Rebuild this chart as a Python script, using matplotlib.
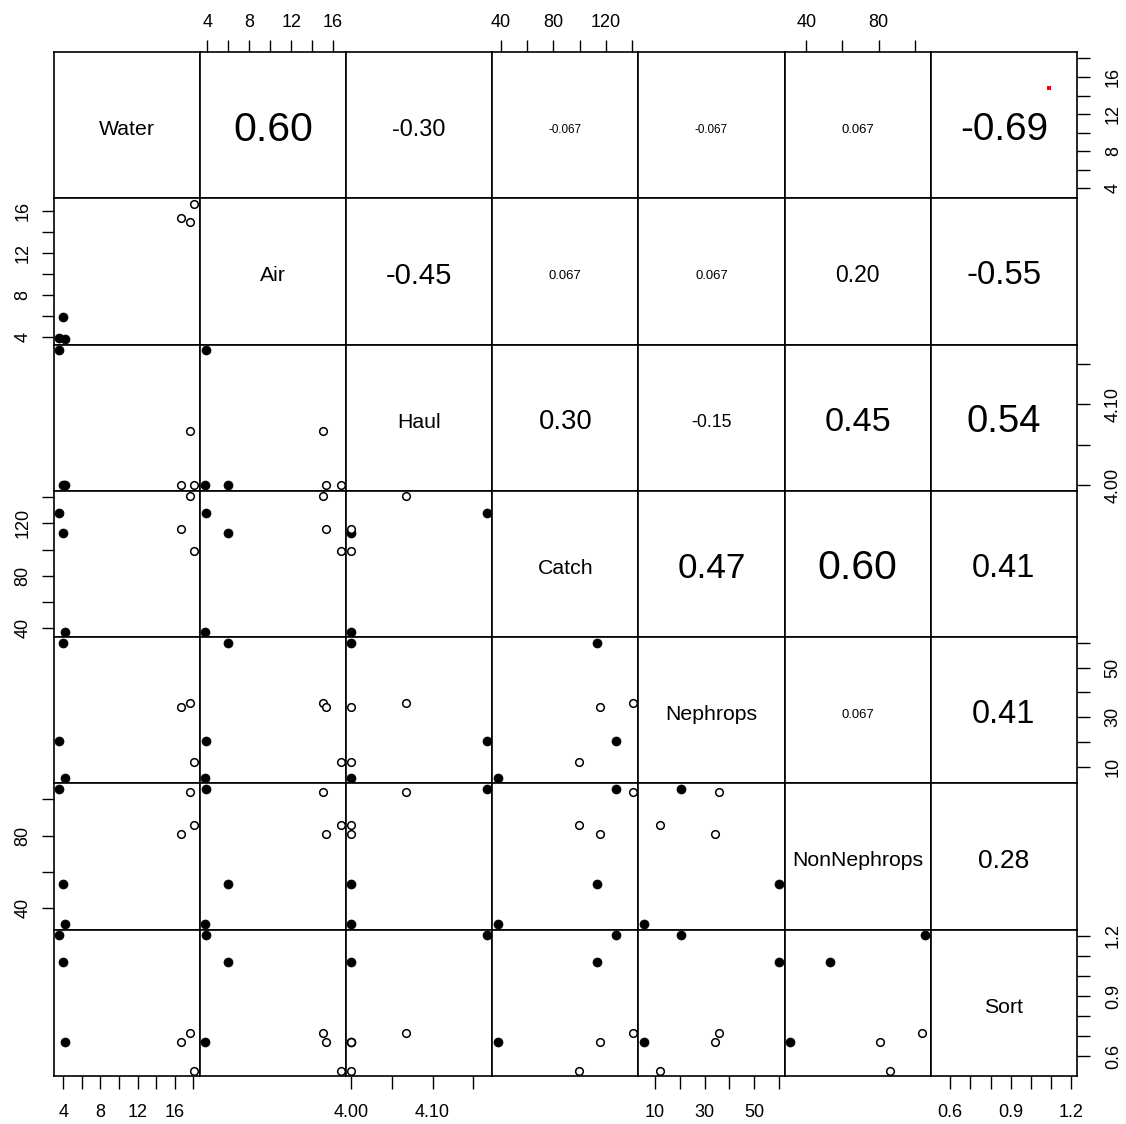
import matplotlib
matplotlib.use("Agg")
import matplotlib.pyplot as plt

plt.rcParams['font.family'] = ['Liberation Sans', 'DejaVu Sans']

# variables in the order of the pairs grid
names = ["Water", "Air", "Haul", "Catch", "Nephrops", "NonNephrops", "Sort"]

# one value per haul, first three are the filled dots, last three the open ones
water = [3.53, 3.96, 4.17, 17.65, 16.72, 18.10]
air = [3.9, 5.95, 3.8, 15.0, 15.3, 16.7]
haul = [4.1667, 4.0, 4.0, 4.0667, 4.0, 4.0]
catch = [128.0, 113.0, 37.3, 140.7, 115.7, 99.3]
nephrops = [20.3, 60.2, 5.4, 35.7, 34.3, 12.0]
nonnephrops = [105.8, 53.0, 31.0, 103.9, 81.0, 86.0]
sort = [1.203, 1.068, 0.671, 0.715, 0.671, 0.53]
filled = [True, True, True, False, False, False]

# stray red point in the Water / Sort upper panel
red_sort = [1.09]
red_water = [14.8]

# correlations printed in the upper triangle, row by row
cor_text = [
    ["0.60", "-0.30", "-0.067", "-0.067", "0.067", "-0.69"],
    ["-0.45", "0.067", "0.067", "0.20", "-0.55"],
    ["0.30", "-0.15", "0.45", "0.54"],
    ["0.47", "0.60", "0.41"],
    ["0.067", "0.41"],
    ["0.28"],
]

# axis ticks and which of them carry a label
water_ticks = [4, 6, 8, 10, 12, 14, 16, 18]
water_labels = ["4", "", "8", "", "12", "", "16", ""]
air_ticks = [4, 6, 8, 10, 12, 14, 16]
air_labels = ["4", "", "8", "", "12", "", "16"]
haul_ticks = [4.00, 4.05, 4.10, 4.15]
haul_labels = ["4.00", "", "4.10", ""]
catch_ticks = [40, 60, 80, 100, 120, 140]
catch_labels = ["40", "", "80", "", "120", ""]
neph_ticks = [10, 20, 30, 40, 50, 60]
neph_labels = ["10", "", "30", "", "50", ""]
nonneph_ticks = [40, 60, 80, 100]
nonneph_labels = ["40", "", "80", ""]
sort_ticks = [0.6, 0.7, 0.8, 0.9, 1.0, 1.1, 1.2]
sort_labels = ["0.6", "", "", "0.9", "", "", "1.2"]

data = [water, air, haul, catch, nephrops, nonnephrops, sort]
ticks = [water_ticks, air_ticks, haul_ticks, catch_ticks, neph_ticks,
         nonneph_ticks, sort_ticks]
labels = [water_labels, air_labels, haul_labels, catch_labels, neph_labels,
          nonneph_labels, sort_labels]

W, H = 1126, 1124
n = len(names)
fig, axes = plt.subplots(n, n, figsize=(W / 100, H / 100), dpi=100)
fig.subplots_adjust(left=53.5 / W, right=1077 / W, bottom=1 - 1076 / H,
                    top=1 - 52 / H, wspace=0, hspace=0)
renderer = fig.canvas.get_renderer()
panel_w = (1077 - 53.5) / n


def lims(v):
    # R style 4% padding around the data range
    lo, hi = min(v), max(v)
    d = (hi - lo) * 0.04
    return lo - d, hi + d


for i in range(n):
    for j in range(n):
        ax = axes[i][j]
        ax.set_xlim(lims(data[j]))
        ax.set_ylim(lims(data[i]))
        ax.set_xticks([])
        ax.set_yticks([])
        for s in ax.spines.values():
            s.set_linewidth(1.2)
        if i > j:
            xs, ys = data[j], data[i]
            fx = [x for x, f in zip(xs, filled) if f]
            fy = [y for y, f in zip(ys, filled) if f]
            ox = [x for x, f in zip(xs, filled) if not f]
            oy = [y for y, f in zip(ys, filled) if not f]
            ax.plot(fx, fy, 'o', ms=6.5, mfc='black', mec='black', mew=0.5,
                    ls='none', clip_on=False, zorder=3)
            ax.plot(ox, oy, 'o', ms=5.5, mfc='white', mec='black', mew=1.1,
                    ls='none', clip_on=False, zorder=3)
        elif i == j:
            ax.text(0.5, 0.47, names[i], transform=ax.transAxes, ha='center',
                    va='center', fontsize=15.3)
        else:
            txt = cor_text[i][j - i - 1]
            r = abs(float(txt))
            t = ax.text(0.5, 0.47, txt, transform=ax.transAxes, ha='center',
                        va='center', fontsize=10)
            w10 = t.get_window_extent(renderer).width
            target = (0.185 + 0.60 * r) * panel_w
            t.set_fontsize(10 * target / w10)

axes[0][n - 1].plot(red_sort, red_water, 's', ms=2.2, color='red', mew=0)

tick_kw = dict(direction='out', length=9, width=1.0, labelsize=13)

# bottom axis on the last row, odd columns
for j in range(0, n, 2):
    ax = axes[n - 1][j]
    ax.set_xticks(ticks[j])
    ax.set_xticklabels(labels[j])
    ax.tick_params(axis='x', pad=11, **tick_kw)

# top axis on the first row, even columns
for j in range(1, n, 2):
    ax = axes[0][j]
    ax.xaxis.set_ticks_position('top')
    ax.set_xticks(ticks[j])
    ax.set_xticklabels(labels[j])
    ax.tick_params(axis='x', pad=6, **tick_kw)

# left axis on the first column, even rows
for i in range(1, n, 2):
    ax = axes[i][0]
    ax.set_yticks(ticks[i])
    ax.set_yticklabels(labels[i])
    ax.tick_params(axis='y', pad=7, labelrotation=90, **tick_kw)
    plt.setp(ax.get_yticklabels(), va='center')

# right axis on the last column, odd rows
for i in range(0, n, 2):
    ax = axes[i][n - 1]
    ax.yaxis.set_ticks_position('right')
    ax.set_yticks(ticks[i])
    ax.set_yticklabels(labels[i])
    ax.tick_params(axis='y', pad=11, labelrotation=90, **tick_kw)
    plt.setp(ax.get_yticklabels(), va='center')

fig.savefig("out.png", dpi=100)
